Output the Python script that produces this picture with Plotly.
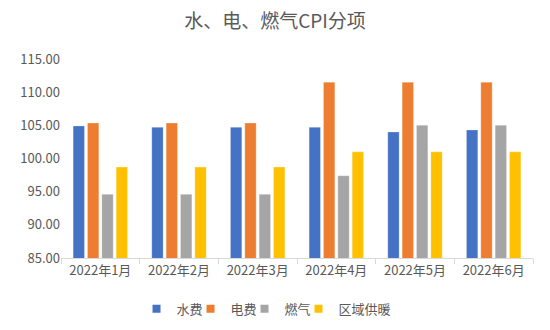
import plotly.graph_objects as go

categories = ["2022年1月", "2022年2月", "2022年3月", "2022年4月", "2022年5月", "2022年6月"]
water = [104.9, 104.7, 104.7, 104.7, 104.0, 104.3]
electricity = [105.35, 105.35, 105.35, 111.5, 111.5, 111.5]
gas = [94.6, 94.6, 94.6, 97.4, 105.0, 105.0]
heating = [98.7, 98.7, 98.7, 101.0, 101.0, 101.0]

series = [("水费", water, "#4472C4"), ("电费", electricity, "#ED7D31"),
          ("燃气", gas, "#A5A5A5"), ("区域供暖", heating, "#FFC000")]

font = "Noto Sans CJK SC, Liberation Sans, sans-serif"
fig = go.Figure()
for name, vals, color in series:
    fig.add_trace(go.Bar(x=categories, y=vals, name=name, showlegend=False,
                         marker=dict(color=color, line=dict(color="rgba(255,255,255,0.5)", width=0.5))))
# legend entries with small square symbols
for name, vals, color in series:
    fig.add_trace(go.Scatter(x=[categories[0]], y=[None], name=name, mode="markers",
                             marker=dict(symbol="square", size=8, color=color), showlegend=True))
# invisible spacer entry so the last legend label is not clipped
fig.add_trace(go.Scatter(x=[categories[0]], y=[None], name=" ", mode="markers",
                         marker=dict(symbol="square", size=8, color="rgba(0,0,0,0)"),
                         showlegend=True, hoverinfo="skip"))

fig.update_layout(
    width=550, height=330,
    margin=dict(l=61, r=17, t=59, b=72, autoexpand=False),
    paper_bgcolor="white", plot_bgcolor="white",
    barmode="group", bargap=0.27, bargroupgap=0.21,
    font=dict(family=font, color="#595959", size=12),
    title=dict(text="水、电、燃气CPI分项", x=0.5, xanchor="center", y=0.935, yanchor="middle",
               font=dict(size=19, color="#595959", family=font)),
    legend=dict(orientation="h", x=0.16, xanchor="left", y=-0.18, yanchor="top",
                font=dict(size=13, color="#595959"), itemwidth=30, traceorder="normal",
                entrywidth=9, entrywidthmode="pixels", bgcolor="rgba(0,0,0,0)"),
    showlegend=True,
)
fig.update_yaxes(range=[85, 115], dtick=5, tickformat=".2f", showgrid=False, zeroline=False,
                 showline=False, tickfont=dict(size=13, color="#595959"), ticks="", ticklen=0)
fig.update_xaxes(showline=True, linecolor="#D9D9D9", linewidth=1, ticks="outside",
                 tickson="boundaries", tickcolor="#D9D9D9", ticklen=5,
                 tickfont=dict(size=13, color="#595959"))

fig.write_html("out.html")
